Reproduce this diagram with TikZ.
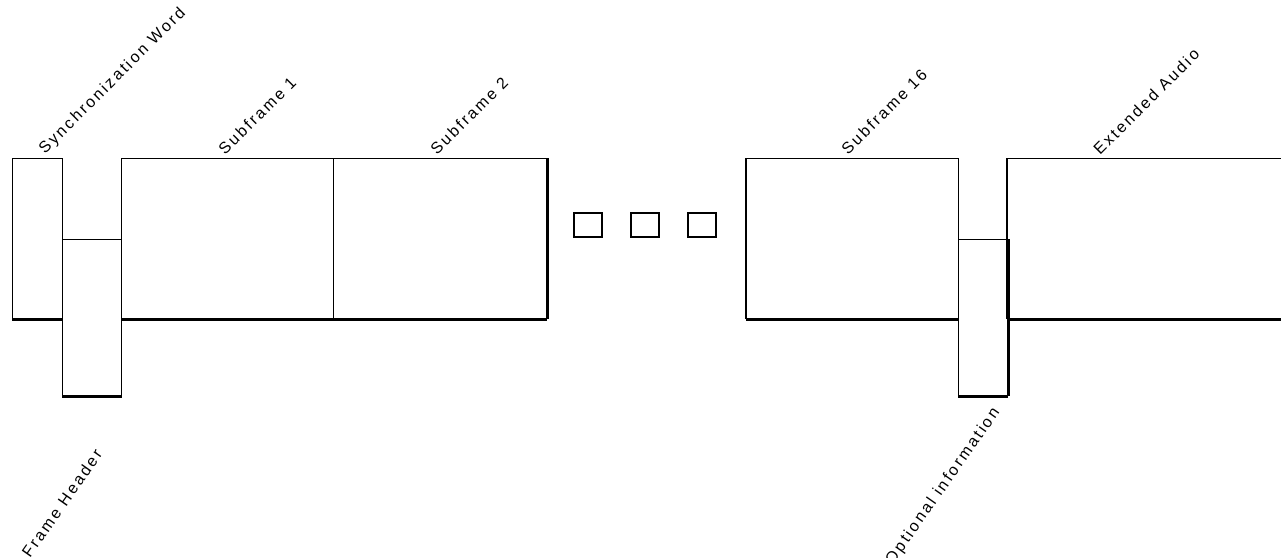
\documentclass[tikz,border=0pt]{standalone}
\usepackage{fontspec}
\setmainfont{Liberation Sans}
\usetikzlibrary{calc}
\begin{document}
\begin{tikzpicture}[x=1pt,y=-1pt,
  box/.style={draw=black, line width=1.3pt, inner sep=0pt, anchor=north west},
  lbl/.style={inner sep=0pt, font=\fontsize{16}{18}\selectfont\addfontfeature{LetterSpace=15}},
  heavy/.style={line width=3pt},
  sideedge/.style={line width=2.4pt},
  dotbox/.style={draw=black, line width=2.6pt, minimum width=28pt, minimum height=24pt, inner sep=0pt}]
\useasboundingbox (0,0) rectangle (1281,557);
\clip (0,0) rectangle (1281,557);
% boxes
\node[box, minimum width=50pt, minimum height=160pt] (sync) at (12,158) {};
\node[box, minimum width=59pt, minimum height=156pt] (fh) at (62,239) {};
\node[box, minimum width=212pt, minimum height=160pt] (s1) at (121,158) {};
\node[box, minimum width=213pt, minimum height=160pt] (s2) at (333,158) {};
\node[dotbox] (d1) at (588,225) {};
\node[dotbox] (d2) at (645,225) {};
\node[dotbox] (d3) at (702,225) {};
\node[box, minimum width=212pt, minimum height=160pt] (s16) at (746,158) {};
\node[box, minimum width=49pt, minimum height=156pt] (oi) at (958,239) {};
\node[box, minimum width=300pt, minimum height=160pt] (ea) at (1007,158) {};
% heavier edges
\draw[heavy] (sync.south west) -- (sync.south east);
\draw[heavy] (fh.south west) -- (fh.south east);
\draw[heavy] (s1.south west) -- (s2.south east);
\draw[sideedge] (s2.north east) -- (s2.south east);
\draw[sideedge] (s16.north west) -- (s16.south west);
\draw[heavy] (s16.south west) -- (s16.south east);
\draw[sideedge] (oi.north east) -- (oi.south east);
\draw[heavy] (oi.south west) -- (oi.south east);
\draw[sideedge] (ea.north west) -- (ea.south west);
\draw[heavy] (ea.south west) -- (ea.south east);
% labels
\node[lbl, rotate=45, anchor=base west] (lsync) at ($(sync.north west)+(33,-3)$) {Synchronization Word};
\node[lbl, rotate=45, anchor=base west] (ls1) at ($(s1.north west)+(104,-2)$) {Subframe 1};
\node[lbl, rotate=45, anchor=base west] (ls2) at ($(s2.north west)+(104,-2)$) {Subframe 2};
\node[lbl, rotate=45, anchor=base west] (ls16) at ($(s16.north west)+(102,-2)$) {Subframe 16};
\node[lbl, rotate=45, anchor=base west] (lea) at ($(ea.north west)+(93,-2)$) {Extended Audio};
\node[lbl, rotate=55, anchor=base east] (lfh) at ($(fh.south)+(11,58)$) {Frame Header};
\node[lbl, rotate=55, anchor=base east] (loi) at ($(oi.south)+(17,16)$) {Optional information};
\end{tikzpicture}
\end{document}
